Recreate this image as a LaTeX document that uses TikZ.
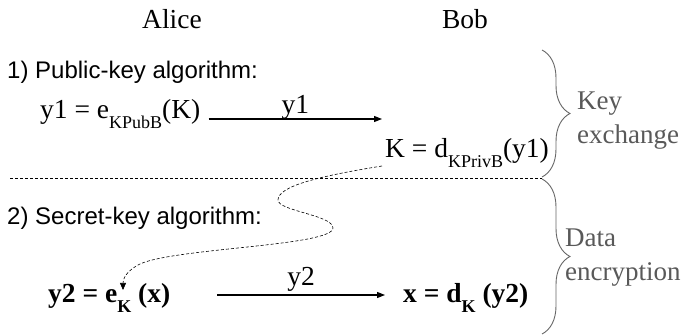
\documentclass[tikz,border=0pt]{standalone}
\usepackage{fontspec}
\setmainfont{Liberation Serif}
\setsansfont{Liberation Sans}
\usetikzlibrary{arrows.meta, decorations.pathreplacing}

\newcommand{\lowsub}[1]{\raisebox{-0.33em}{\fontsize{18}{18}\selectfont #1}}

\begin{document}
\begin{tikzpicture}[x=1pt, y=-1pt,
    % Node styles
    party/.style={
        font=\fontsize{27.5}{30}\selectfont, inner sep=0pt,
    },
    phase/.style={
        font=\sffamily\fontsize{24}{28}\selectfont,
        inner sep=0pt, anchor=base west,
    },
    formula/.style={
        font=\fontsize{27.5}{30}\selectfont,
        inner sep=0pt, anchor=base west,
    },
    msg label/.style={
        font=\fontsize{27.5}{30}\selectfont,
        inner sep=0pt, midway, anchor=base,
    },
    group/.style={
        font=\fontsize{27}{34}\selectfont, text=black!65,
        align=left, inner sep=0pt, anchor=west,
    },
    % Line styles
    msg/.style={
        draw=black, line width=1.2pt, -{Triangle[length=8pt, width=6pt]},
    },
    keyflow/.style={
        draw=black, line width=0.6pt, dash pattern=on 3pt off 2pt,
        -{Triangle[length=7pt, width=6pt]},
    },
    sep/.style={
        draw=black, line width=0.6pt, dash pattern=on 3pt off 2pt,
    },
    grpbrace/.style={
        draw=black!60, line width=0.9pt,
        decorate, decoration={brace, amplitude=28pt},
    },
]
\useasboundingbox (0,0) rectangle (681,336);

% === Parties ===
\node[party] (alice) at (172,19) {Alice};
\node[party] (bob)   at (465,19) {Bob};

% === Phase 1: public-key ===
\node[phase] (pubalg) at (7,79) {1) Public-key algorithm:};
\node[formula] (enc1) at (40,119) {y1 = e\lowsub{KPubB}(K)};
\node[formula] (dec1) at (385,158) {K = d\lowsub{KPrivB}(y1)};

% === Phase 2: secret-key ===
\node[phase] (secalg) at (7,225) {2) Secret-key algorithm:};
\node[formula, font=\bfseries\fontsize{27.5}{30}\selectfont] (enc2) at (48,303)
    {y2 = e\lowsub{\bfseries K} (x)};
\node[formula, font=\bfseries\fontsize{27.5}{30}\selectfont] (dec2) at (403,303)
    {x = d\lowsub{\bfseries K} (y2)};

% === Groups ===
\coordinate (top)  at (542,50);
\coordinate (mid)  at (542,178);
\coordinate (bot)  at (542,334);
\coordinate (sepL) at (10,178);
\node[group] (keyx) at (577,121) {Key\\exchange};
\node[group] (data) at (565,258) {Data\\encryption};

% === Messages ===
\draw[msg] ([xshift=8pt]enc1.base east) -- ([xshift=-3pt]enc1.base east -| dec1.base west)
    node[msg label, yshift=5pt] (m1) {y1};
\draw[msg] ([shift={(47pt,8pt)}]enc2.base east)
    -- ([shift={(-18pt,8pt)}]enc2.base east -| dec2.base west)
    node[msg label, yshift=9pt] (m2) {y2};

% === Key handed over ===
\draw[keyflow] ([shift={(-3pt,-8pt)}]dec1.base west)
    .. controls (320,176) and (278,186) .. (278,200)
    .. controls (278,211) and (333,215) .. (333,228)
    .. controls (333,246) and (175,248) .. (140,264)
    .. controls (126,271) and (123,279) .. ([shift={(75pt,13pt)}]enc2.base west);

% === Separator and braces ===
\draw[sep] (sepL) -- (mid);
\draw[grpbrace] (top) -- ([yshift=1pt]mid);
\draw[grpbrace] ([yshift=-1pt]mid) -- (bot);

\end{tikzpicture}
\end{document}
